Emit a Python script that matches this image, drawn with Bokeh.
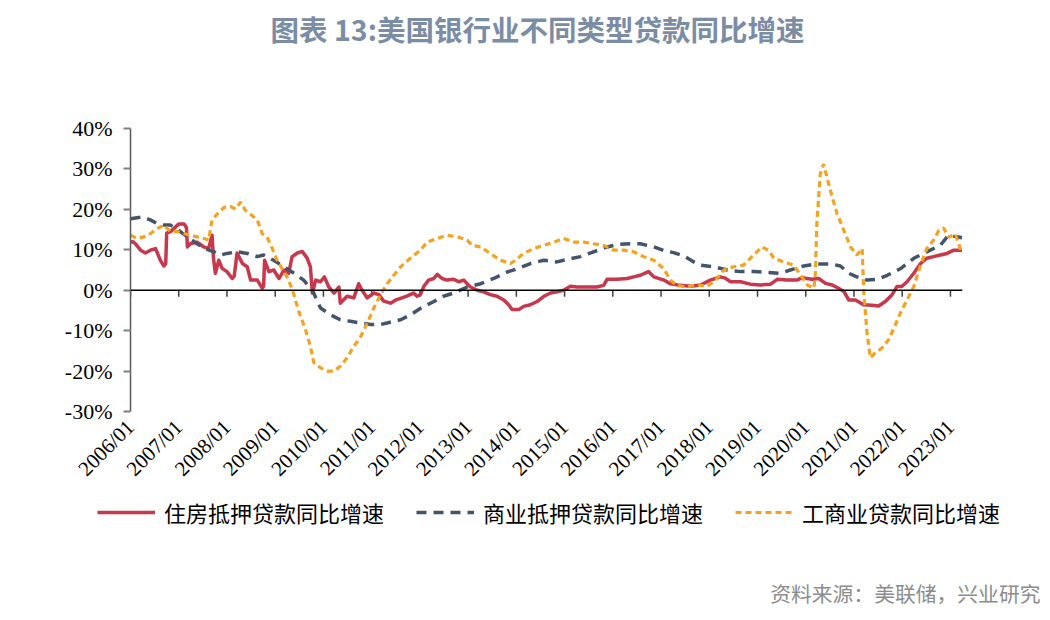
from bokeh.plotting import figure
from bokeh.layouts import column
from bokeh.models import (Range1d, FixedTicker, PrintfTickFormatter, Span, Label,
                          Legend, LegendItem)
from bokeh.embed import file_html
from bokeh.resources import INLINE

# ---------------- data (fractional year, % YoY) ----------------
red_x = [2006.00, 2006.05, 2006.10, 2006.21, 2006.31, 2006.41, 2006.52, 2006.62, 2006.69, 2006.73,
         2006.75, 2006.83, 2006.93, 2007.00, 2007.11, 2007.16, 2007.18, 2007.24, 2007.38, 2007.52,
         2007.62, 2007.69, 2007.72, 2007.76, 2007.83, 2007.90, 2008.00, 2008.11, 2008.15, 2008.21,
         2008.32, 2008.42, 2008.49, 2008.63, 2008.73, 2008.76, 2008.78, 2008.87, 2008.97, 2009.08,
         2009.18, 2009.28, 2009.35, 2009.46, 2009.56, 2009.66, 2009.73, 2009.77, 2009.84, 2009.94,
         2010.02, 2010.11, 2010.22, 2010.32, 2010.35, 2010.49, 2010.63, 2010.73, 2010.80, 2010.91,
         2011.04, 2011.15, 2011.25, 2011.39, 2011.50, 2011.60, 2011.74, 2011.87, 2011.94, 2012.01,
         2012.08, 2012.18, 2012.29, 2012.36, 2012.46, 2012.56, 2012.70, 2012.81, 2012.91, 2012.98,
         2013.05, 2013.19, 2013.32, 2013.46, 2013.60, 2013.74, 2013.84, 2013.91, 2014.05, 2014.15,
         2014.29, 2014.43, 2014.57, 2014.71, 2014.84, 2014.98, 2015.12, 2015.26, 2015.47, 2015.67,
         2015.81, 2015.88, 2016.09, 2016.30, 2016.43, 2016.57, 2016.74, 2016.85, 2017.06, 2017.19,
         2017.40, 2017.61, 2017.82, 2018.02, 2018.23, 2018.33, 2018.44, 2018.65, 2018.85, 2019.06,
         2019.27, 2019.41, 2019.61, 2019.82, 2019.92, 2020.13, 2020.27, 2020.41, 2020.55, 2020.68,
         2020.79, 2020.89, 2021.03, 2021.20, 2021.37, 2021.51, 2021.65, 2021.79, 2021.89, 2021.99,
         2022.10, 2022.24, 2022.38, 2022.51, 2022.65, 2022.79, 2022.93, 2023.07, 2023.24]
red_y = [11.9, 12.0, 11.5, 9.9, 9.2, 9.9, 10.3, 7.4, 6.0, 6.5,
         14.1, 14.5, 15.6, 16.4, 16.4, 15.5, 10.7, 11.5, 11.9, 10.7,
         10.3, 13.6, 8.0, 4.2, 7.4, 5.4, 4.6, 2.9, 3.5, 9.2,
         6.6, 5.8, 2.5, 2.5, 0.5, 1.0, 7.4, 4.6, 5.0, 2.9,
         5.0, 4.2, 8.3, 9.2, 9.6, 8.0, 5.8, -0.7, 2.5, 2.1,
         3.3, 0.8, -0.7, 0.8, -3.2, -1.5, -1.9, 1.6, 0.0, -1.9,
         -0.7, -1.1, -2.7, -3.2, -2.4, -2.0, -1.4, -0.7, -1.5, -1.1,
         0.9, 2.5, 2.9, 3.9, 2.9, 2.5, 2.7, 2.1, 2.5, 1.6,
         0.8, 0.0, -0.4, -1.1, -1.5, -2.4, -3.6, -4.8, -4.8, -4.0,
         -3.6, -2.8, -1.5, -0.7, -0.4, 0.0, 1.0, 0.8, 0.8, 0.8,
         1.2, 2.7, 2.7, 2.9, 3.3, 3.7, 4.6, 3.3, 2.5, 1.6,
         1.2, 1.0, 1.3, 2.5, 3.3, 3.0, 2.1, 2.1, 1.5, 1.3,
         1.5, 2.7, 2.5, 2.5, 3.1, 2.7, 2.9, 1.7, 1.3, 0.5,
         -0.3, -2.4, -2.4, -3.6, -3.7, -3.9, -2.8, -1.1, 0.9, 0.9,
         2.1, 4.2, 6.6, 7.9, 8.3, 8.7, 9.1, 9.9, 9.9]

blue_x = [2006.00, 2006.24, 2006.41, 2006.55, 2006.69, 2006.83, 2007.00, 2007.18, 2007.38, 2007.55,
          2007.73, 2007.87, 2008.00, 2008.21, 2008.42, 2008.63, 2008.76, 2008.97, 2009.18, 2009.39,
          2009.59, 2009.77, 2009.94, 2010.15, 2010.35, 2010.56, 2010.77, 2010.98, 2011.18, 2011.32,
          2011.60, 2011.80, 2012.08, 2012.29, 2012.49, 2012.70, 2012.98, 2013.26, 2013.53, 2013.81,
          2014.02, 2014.29, 2014.57, 2014.84, 2015.12, 2015.33, 2015.60, 2015.88, 2016.09, 2016.36,
          2016.57, 2016.85, 2017.06, 2017.26, 2017.47, 2017.68, 2017.82, 2018.09, 2018.37, 2018.65,
          2018.92, 2019.20, 2019.47, 2019.68, 2019.96, 2020.23, 2020.51, 2020.72, 2020.89, 2021.06,
          2021.27, 2021.48, 2021.69, 2021.96, 2022.24, 2022.51, 2022.79, 2022.96, 2023.14, 2023.24]
blue_y = [17.7, 18.1, 17.4, 16.5, 16.1, 16.1, 14.8, 13.2, 11.5, 10.3,
          9.5, 8.7, 9.1, 9.5, 9.1, 8.3, 8.7, 7.4, 5.8, 4.2,
          2.5, 0.0, -4.4, -6.1, -7.3, -7.7, -8.1, -8.5, -8.5, -8.1,
          -7.3, -6.1, -4.0, -2.8, -1.5, -0.7, 0.8, 1.6, 2.9, 4.5,
          5.3, 6.6, 7.4, 7.0, 7.8, 8.3, 9.5, 10.7, 11.3, 11.5,
          11.5, 10.7, 9.8, 9.3, 8.5, 7.0, 6.2, 5.8, 5.0, 4.6,
          4.6, 4.4, 4.2, 5.0, 6.0, 6.5, 6.5, 6.0, 4.2, 3.3,
          2.5, 2.7, 3.7, 5.3, 7.9, 9.5, 11.1, 13.6, 13.2, 13.0]

orange_x = [2006.00, 2006.14, 2006.28, 2006.41, 2006.55, 2006.69, 2006.83, 2006.97, 2007.11, 2007.24,
            2007.38, 2007.52, 2007.62, 2007.69, 2007.80, 2007.94, 2008.07, 2008.18, 2008.28, 2008.38,
            2008.52, 2008.63, 2008.73, 2008.83, 2008.94, 2009.04, 2009.18, 2009.28, 2009.39, 2009.49,
            2009.63, 2009.73, 2009.80, 2009.94, 2010.08, 2010.22, 2010.35, 2010.49, 2010.63, 2010.77,
            2010.91, 2011.04, 2011.18, 2011.32, 2011.46, 2011.60, 2011.80, 2012.01, 2012.15, 2012.36,
            2012.56, 2012.77, 2012.98, 2013.08, 2013.26, 2013.46, 2013.67, 2013.88, 2013.98, 2014.15,
            2014.36, 2014.57, 2014.78, 2014.98, 2015.19, 2015.40, 2015.60, 2015.81, 2016.02, 2016.23,
            2016.43, 2016.64, 2016.85, 2017.06, 2017.19, 2017.33, 2017.54, 2017.68, 2017.82, 2017.95,
            2018.13, 2018.30, 2018.51, 2018.71, 2018.92, 2019.09, 2019.23, 2019.34, 2019.54, 2019.75,
            2019.89, 2020.03, 2020.17, 2020.20, 2020.23, 2020.30, 2020.37, 2020.44, 2020.55, 2020.65,
            2020.79, 2020.93, 2021.06, 2021.17, 2021.20, 2021.27, 2021.34, 2021.44, 2021.58, 2021.72,
            2021.86, 2021.96, 2022.10, 2022.24, 2022.38, 2022.51, 2022.65, 2022.76, 2022.86, 2022.96,
            2023.10, 2023.24]
orange_y = [13.6, 12.8, 13.2, 14.0, 15.2, 16.1, 14.5, 14.5, 14.0, 13.6,
            13.2, 12.8, 12.4, 17.3, 18.9, 20.5, 20.7, 20.1, 21.8, 19.8,
            18.5, 17.3, 14.0, 13.2, 10.3, 7.4, 4.6, 2.5, -1.2, -5.3,
            -9.8, -13.9, -17.9, -19.2, -20.0, -20.0, -18.8, -16.7, -13.9, -11.5,
            -8.1, -4.5, -1.2, 1.6, 3.7, 5.8, 7.9, 9.9, 11.9, 12.8,
            13.6, 13.2, 12.4, 11.1, 10.7, 9.1, 7.4, 6.6, 7.4, 9.1,
            10.3, 11.1, 11.9, 12.8, 11.9, 11.9, 11.5, 11.1, 9.9, 9.9,
            9.5, 8.3, 7.4, 5.3, 2.5, 1.2, 0.8, 1.2, 1.2, 0.9,
            2.5, 5.0, 5.8, 6.2, 8.7, 10.7, 9.9, 7.9, 7.0, 6.2,
            3.8, 1.3, 0.5, 4.2, 16.5, 28.7, 31.2, 27.9, 23.0, 18.9,
            14.8, 10.7, 8.7, 10.3, 0.0, -10.6, -16.7, -15.5, -14.3, -12.2,
            -8.5, -5.7, -2.4, 0.9, 6.2, 10.3, 12.4, 14.8, 15.4, 13.1,
            13.9, 9.1]

years = list(range(2006, 2024))
y_ticks = [-30, -20, -10, 0, 10, 20, 30, 40]
series_names = ["住房抵押贷款同比增速", "商业抵押贷款同比增速", "工商业贷款同比增速"]
title_text = "图表 13:美国银行业不同类型贷款同比增速"
source_text = "资料来源：美联储，兴业研究"

W = 1050
red_c, blue_c, orange_c = "#C8374B", "#44546A", "#F5A31E"
cjk = "Noto Sans CJK SC"
serif = "Liberation Serif"
NAN = float("nan")


def blank_fig(h):
    f = figure(width=W, height=h, output_backend="svg", toolbar_location=None,
               x_range=Range1d(0, W), y_range=Range1d(0, h),
               x_axis_type=None, y_axis_type=None, frame_align=False,
               min_border_left=0, min_border_right=0, min_border_top=0, min_border_bottom=0)
    f.outline_line_color = None
    f.grid.visible = False
    f.background_fill_color = "white"
    f.border_fill_color = "white"
    return f


# ---------------- title strip ----------------
top = blank_fig(100)
top.add_layout(Label(x=537, y=72, text=title_text, text_font=cjk, text_font_size="28.5px",
                     text_font_style="bold", text_color="#7B8CA5",
                     text_align="center", text_baseline="middle"))

# ---------------- main chart ----------------
p = figure(width=W, height=395, output_backend="svg", toolbar_location=None,
           x_range=Range1d(2006.0, 2023.25), y_range=Range1d(-30, 40), frame_align=False,
           min_border_left=130, min_border_right=88, min_border_top=28,
           min_border_bottom=84)
p.outline_line_color = None
p.xgrid.grid_line_color = None
p.ygrid.grid_line_color = None
p.background_fill_color = "white"
p.border_fill_color = "white"

p.yaxis.ticker = FixedTicker(ticks=y_ticks)
p.yaxis.formatter = PrintfTickFormatter(format="%d%%")
p.yaxis.major_label_text_font = serif
p.yaxis.major_label_text_font_size = "22px"
p.yaxis.major_label_text_color = "#000000"
p.yaxis.axis_line_color = "#595959"
p.yaxis.axis_line_width = 1.5
p.yaxis.major_tick_line_color = "#808080"
p.yaxis.major_tick_line_width = 2
p.yaxis.major_tick_in = 0
p.yaxis.major_tick_out = 7
p.yaxis.minor_tick_line_color = None
p.yaxis.major_label_standoff = 11

p.xaxis.ticker = FixedTicker(ticks=years)
p.xaxis.major_label_overrides = {y: f"{y}/01" for y in years}
p.xaxis.major_label_orientation = 0.785398
p.xaxis.major_label_text_font = serif
p.xaxis.major_label_text_font_size = "21px"
p.xaxis.major_label_text_color = "#000000"
p.xaxis.axis_line_color = None
p.xaxis.major_tick_line_color = None
p.xaxis.minor_tick_line_color = None
p.xaxis.major_tick_in = 0
p.xaxis.major_tick_out = 0
p.xaxis.major_label_standoff = 12

p.add_layout(Span(location=0, dimension="width", line_color="#000000", line_width=1.5))
p.segment(x0=years, y0=[0] * len(years), x1=years, y1=[-1.6] * len(years),
          line_color="#404040", line_width=1.5)

p.line(red_x, red_y, line_color=red_c, line_width=3.5, line_join="round")
p.line(blue_x, blue_y, line_color=blue_c, line_width=3.5, line_dash="10 7")
p.line(orange_x, orange_y, line_color=orange_c, line_width=3.2, line_dash="6 4")

# ---------------- legend + source strip ----------------
bot = blank_fig(125)
l1 = bot.line([NAN], [NAN], line_color=red_c, line_width=3.5)
l2 = bot.line([NAN], [NAN], line_color=blue_c, line_width=3.5, line_dash="10 7")
l3 = bot.line([NAN], [NAN], line_color=orange_c, line_width=3.2, line_dash="6 4")
legend = Legend(items=[LegendItem(label=series_names[0], renderers=[l1]),
                       LegendItem(label=series_names[1], renderers=[l2]),
                       LegendItem(label=series_names[2], renderers=[l3])],
                orientation="horizontal", location=(97, 92),
                label_text_font=cjk, label_text_font_size="22px",
                label_text_color="#000000", glyph_width=58, glyph_height=20,
                label_standoff=9, spacing=32, padding=0, margin=0,
                border_line_color=None, background_fill_alpha=0)
bot.add_layout(legend, "center")
bot.add_layout(Label(x=1040, y=28, text=source_text, text_font=cjk, text_font_size="20.8px",
                     text_color="#8C8C8C", text_align="right", text_baseline="middle"))

layout = column(top, p, bot, spacing=0)
open("out.html", "w").write(file_html(layout, INLINE))
